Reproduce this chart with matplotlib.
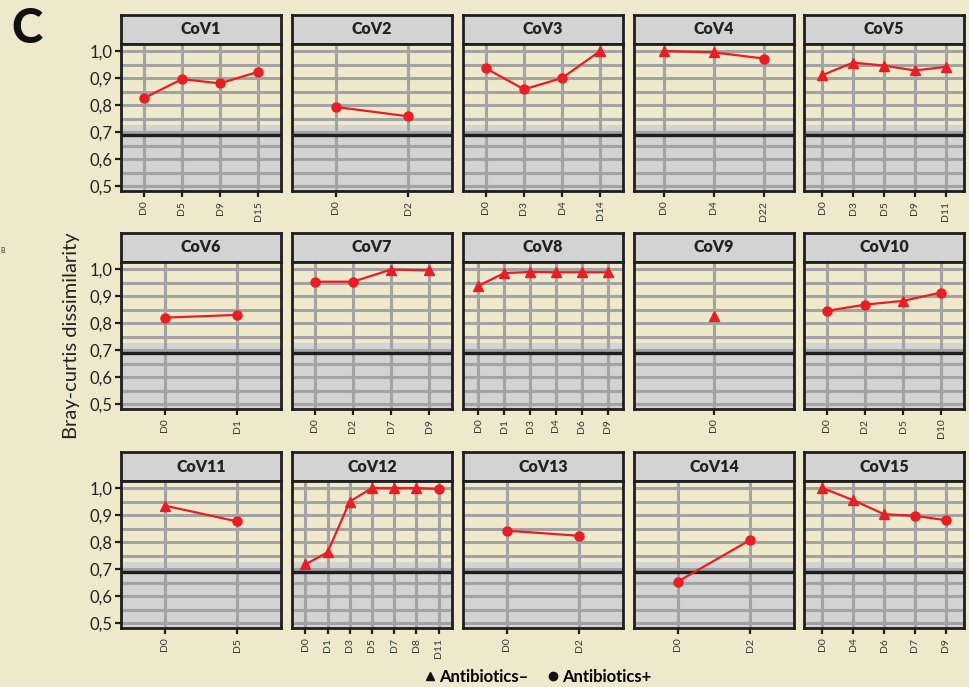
import matplotlib.pyplot as plt
from matplotlib.lines import Line2D
from matplotlib.ticker import FuncFormatter

plt.rcParams['font.family'] = ['Lato', 'DejaVu Sans']

patients = ["CoV1", "CoV2", "CoV3", "CoV4", "CoV5",
            "CoV6", "CoV7", "CoV8", "CoV9", "CoV10",
            "CoV11", "CoV12", "CoV13", "CoV14", "CoV15"]

days = [
    ["D0", "D5", "D9", "D15"],
    ["D0", "D2"],
    ["D0", "D3", "D4", "D14"],
    ["D0", "D4", "D22"],
    ["D0", "D3", "D5", "D9", "D11"],
    ["D0", "D1"],
    ["D0", "D2", "D7", "D9"],
    ["D0", "D1", "D3", "D4", "D6", "D9"],
    ["D0"],
    ["D0", "D2", "D5", "D10"],
    ["D0", "D5"],
    ["D0", "D1", "D3", "D5", "D7", "D8", "D11"],
    ["D0", "D2"],
    ["D0", "D2"],
    ["D0", "D4", "D6", "D7", "D9"],
]

dissim = [
    [0.825, 0.896, 0.880, 0.923],
    [0.793, 0.758],
    [0.936, 0.858, 0.900, 1.000],
    [1.000, 0.995, 0.972],
    [0.911, 0.957, 0.946, 0.928, 0.941],
    [0.820, 0.830],
    [0.953, 0.953, 0.998, 0.995],
    [0.938, 0.985, 0.989, 0.988, 0.988, 0.988],
    [0.826],
    [0.845, 0.868, 0.882, 0.913],
    [0.935, 0.876],
    [0.717, 0.762, 0.950, 1.000, 1.000, 1.000, 0.996],
    [0.842, 0.823],
    [0.653, 0.808],
    [1.000, 0.955, 0.903, 0.897, 0.881],
]

# "-" = no antibiotics (triangle), "+" = antibiotics (circle)
abx = [
    ["+", "+", "+", "+"],
    ["+", "+"],
    ["+", "+", "+", "-"],
    ["-", "-", "+"],
    ["-", "-", "-", "-", "-"],
    ["+", "+"],
    ["+", "+", "-", "-"],
    ["-", "-", "-", "-", "-", "-"],
    ["-"],
    ["+", "+", "-", "+"],
    ["-", "+"],
    ["-", "-", "-", "-", "-", "-", "+"],
    ["+", "+"],
    ["+", "+"],
    ["-", "-", "-", "+", "+"],
]

BG = "#efe9cc"
GRAY = "#d3d3d3"
GRID = "#a3a3a3"
RED = "#ec1c24"
DARK = "#1e1e1e"

W, H = 970, 687
fig = plt.figure(figsize=(W / 100, H / 100), dpi=100)
fig.patch.set_facecolor(BG)


def px(x, y, w, h):
    return [x / W, 1 - (y + h) / H, w / W, h / H]


col_x = [121, 292, 463, 634, 804]
row_y = [15, 233, 452]
pw, sh, ph = 160, 29, 147
ylo, yhi = 0.4815, 1.026

for i, name in enumerate(patients):
    r, c = divmod(i, 5)

    # facet strip
    sax = fig.add_axes(px(col_x[c], row_y[r], pw, sh))
    sax.set_facecolor(GRAY)
    sax.set_xticks([])
    sax.set_yticks([])
    for s in sax.spines.values():
        s.set_color(DARK)
        s.set_linewidth(2)
    sax.text(0.5, 0.5, name, ha="center", va="center", fontsize=11.5,
             fontweight="heavy", color="#222222", transform=sax.transAxes)

    ax = fig.add_axes(px(col_x[c], row_y[r] + sh, pw, ph))
    ax.set_facecolor(BG)
    n = len(days[i])
    xs = list(range(n))
    ax.set_xlim(-0.6, n - 1 + 0.6)
    ax.set_ylim(ylo, yhi)
    ax.axhspan(ylo, 0.727, color=GRAY, zorder=0, lw=0)

    ax.set_yticks([0.5, 0.6, 0.7, 0.8, 0.9, 1.0])
    ax.set_yticks([0.55, 0.65, 0.75, 0.85, 0.95], minor=True)
    ax.set_xticks(xs, days[i], rotation=90, fontsize=7.5, color="#333333")
    ax.grid(True, which="both", color=GRID, lw=2.2, zorder=1)
    ax.set_axisbelow(True)
    ax.axhline(0.69, color=DARK, lw=2.4, zorder=2)

    ax.plot(xs, dissim[i], color=RED, lw=1.6, zorder=3)
    for x, v, a in zip(xs, dissim[i], abx[i]):
        if a == "-":
            ax.plot(x, v, marker="^", ms=7.5, color=RED, zorder=4)
        else:
            ax.plot(x, v, marker="o", ms=6.5, color=RED, zorder=4)

    for s in ax.spines.values():
        s.set_color(DARK)
        s.set_linewidth(2)
    ax.tick_params(axis="x", length=4, width=1.6, color=DARK, pad=3)
    ax.tick_params(axis="y", which="minor", length=0)
    if c == 0:
        ax.yaxis.set_major_formatter(
            FuncFormatter(lambda v, _: f"{v:.1f}".replace(".", ",")))
        ax.tick_params(axis="y", length=4, width=1.6, color=DARK,
                       labelsize=12, labelcolor="#222222", pad=2)
    else:
        ax.tick_params(axis="y", length=0, labelleft=False)

fig.text(72 / W, 1 - 336 / H, "Bray-curtis dissimilarity", rotation=90,
         ha="center", va="center", fontsize=14.5, color="#222222")
fig.text(11 / W, 1 - 29 / H, "C", fontsize=34, fontweight="black",
         ha="left", va="center", color="#111111")
fig.text(0, 1 - 251 / H, "B", fontsize=5, ha="left", va="center",
         color="#333333")

handles = [
    Line2D([], [], ls="none", marker="^", ms=6, color="#111111"),
    Line2D([], [], ls="none", marker="o", ms=6, color="#111111"),
]
fig.legend(handles, ["Antibiotics\u2013", "Antibiotics+"], loc="center",
           bbox_to_anchor=(538 / W, 1 - 677 / H), ncol=2, frameon=False,
           handlelength=0.6, handletextpad=0.25, columnspacing=1.2,
           prop={"weight": "bold", "size": 12})

fig.savefig("out.png", dpi=100, facecolor=BG)
